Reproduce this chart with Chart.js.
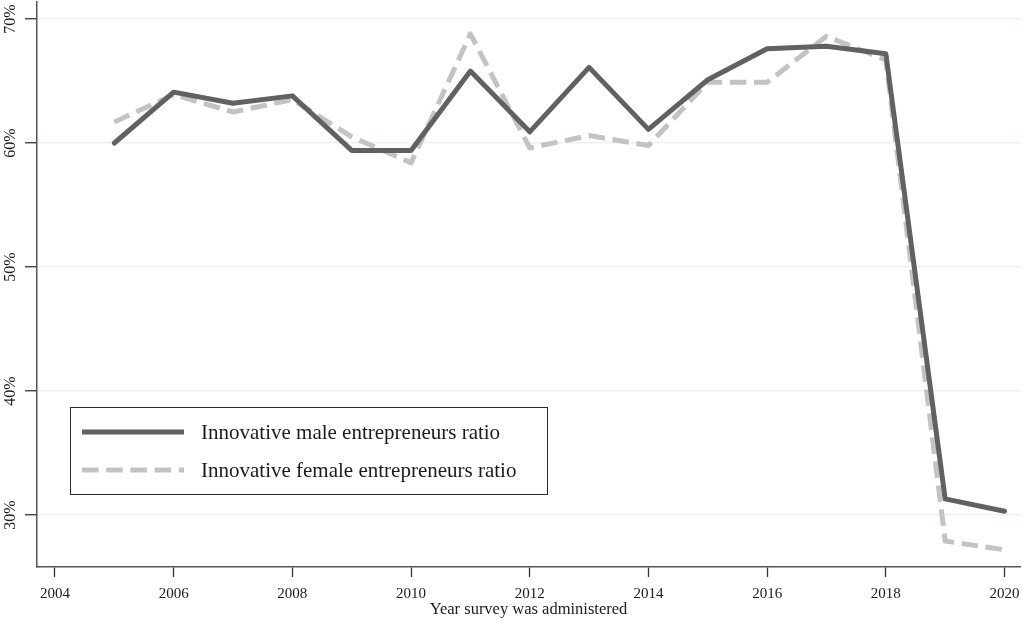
<!DOCTYPE html>
<html>
<head>
<meta charset="utf-8">
<script src="https://cdn.jsdelivr.net/npm/chart.js@4.4.1/dist/chart.umd.min.js"></script>
<style>
  html, body { margin: 0; padding: 0; background: #ffffff; }
  #wrap { width: 1022px; height: 618px; }
</style>
</head>
<body>
<div id="wrap"><canvas id="chart" width="1022" height="618"></canvas></div>
<script>
// Survey years and the share of innovative entrepreneurs (%) by gender
const years = [2005, 2006, 2007, 2008, 2009, 2010, 2011, 2012, 2013, 2014, 2015, 2016, 2017, 2018, 2019, 2020];
const maleRatio = [60.0, 64.1, 63.2, 63.8, 59.4, 59.4, 65.8, 60.9, 66.1, 61.1, 65.1, 67.6, 67.8, 67.2, 31.3, 30.3];
const femaleRatio = [61.7, 63.9, 62.5, 63.5, 60.5, 58.4, 68.8, 59.6, 60.6, 59.8, 64.9, 64.9, 68.6, 66.7, 27.9, 27.2];

const xTickValues = [2004, 2006, 2008, 2010, 2012, 2014, 2016, 2018, 2020];
const yTickValues = [30, 40, 50, 60, 70];

const seriesNames = ['Innovative male entrepreneurs ratio', 'Innovative female entrepreneurs ratio'];
const xTitle = 'Year survey was administered';

const SERIF = "'Liberation Serif', 'Times New Roman', serif";
const TEXT_COLOR = '#1b1b1b';

// Rotated percentage labels on the vertical axis
const yLabelPlugin = {
  id: 'yLabels',
  afterDraw(chart) {
    const ys = chart.scales.y;
    const ctx = chart.ctx;
    ctx.save();
    ctx.fillStyle = TEXT_COLOR;
    ctx.font = '16px ' + SERIF;
    ctx.textAlign = 'center';
    ctx.textBaseline = 'middle';
    ys.ticks.forEach(t => {
      const py = ys.getPixelForValue(t.value);
      ctx.save();
      ctx.translate(11, py);
      ctx.rotate(-Math.PI / 2);
      ctx.fillText(t.value + '%', 0, 0);
      ctx.restore();
    });
    ctx.restore();
  }
};

// Boxed legend placed inside the plot area
const boxLegendPlugin = {
  id: 'boxLegend',
  afterDraw(chart) {
    const ctx = chart.ctx;
    const left = 70, top = 407, w = 477, h = 87;
    ctx.save();
    ctx.strokeStyle = '#2b2b2b';
    ctx.lineWidth = 1;
    ctx.strokeRect(left + 0.5, top + 0.5, w, h);
    const rows = [432, 470];
    chart.data.datasets.forEach((ds, i) => {
      const y = rows[i];
      ctx.save();
      ctx.strokeStyle = ds.borderColor;
      ctx.lineWidth = ds.borderWidth;
      ctx.setLineDash(ds.borderDash || []);
      ctx.lineCap = 'butt';
      ctx.beginPath();
      ctx.moveTo(82, y);
      ctx.lineTo(184, y);
      ctx.stroke();
      ctx.restore();
      ctx.fillStyle = TEXT_COLOR;
      ctx.font = '21px ' + SERIF;
      ctx.textAlign = 'left';
      ctx.textBaseline = 'middle';
      ctx.fillText(ds.label, 201, y + 1);
    });
    ctx.restore();
  }
};

const ctx = document.getElementById('chart').getContext('2d');
new Chart(ctx, {
  type: 'line',
  data: {
    datasets: [
      {
        label: seriesNames[0],
        data: years.map((yr, i) => ({ x: yr, y: maleRatio[i] })),
        borderColor: '#616161',
        borderWidth: 5,
        borderCapStyle: 'round',
        borderJoinStyle: 'round',
        pointRadius: 0,
        tension: 0,
        fill: false
      },
      {
        label: seriesNames[1],
        data: years.map((yr, i) => ({ x: yr, y: femaleRatio[i] })),
        borderColor: '#c3c3c3',
        borderWidth: 5,
        borderDash: [16.5, 7.7],
        borderCapStyle: 'butt',
        borderJoinStyle: 'round',
        pointRadius: 0,
        tension: 0,
        fill: false
      }
    ]
  },
  options: {
    responsive: false,
    animation: false,
    devicePixelRatio: 1,
    layout: { padding: { top: 2, right: 2, left: 0, bottom: 0 } },
    plugins: {
      legend: { display: false },
      tooltip: { enabled: false }
    },
    scales: {
      x: {
        type: 'linear',
        min: 2003.697,
        max: 2020.261,
        afterBuildTicks: s => { s.ticks = xTickValues.map(v => ({ value: v })); },
        afterFit: s => { s.height = 51; s.paddingLeft = 0; s.paddingRight = 0; },
        ticks: {
          callback: v => String(v),
          font: { family: SERIF, size: 15 },
          color: TEXT_COLOR,
          padding: 8,
          maxRotation: 0,
          autoSkip: false
        },
        grid: {
          drawOnChartArea: false,
          drawTicks: true,
          tickLength: 10,
          tickColor: '#333333',
          tickWidth: 1.3
        },
        border: { display: true, color: '#555555', width: 1.5 },
        title: {
          display: true,
          text: xTitle,
          font: { family: SERIF, size: 16.5 },
          color: TEXT_COLOR,
          padding: { top: 0, bottom: -2 }
        }
      },
      y: {
        type: 'linear',
        min: 25.81,
        max: 71.37,
        afterBuildTicks: s => { s.ticks = yTickValues.map(v => ({ value: v })); },
        afterFit: s => { s.width = 37; s.paddingTop = 0; s.paddingBottom = 0; },
        ticks: { display: false },
        grid: {
          color: '#e9f1f3',
          lineWidth: 1.5,
          drawTicks: true,
          tickLength: 12,
          tickColor: '#333333',
          tickWidth: 1.3
        },
        border: { display: true, color: '#555555', width: 1.5 }
      }
    }
  },
  plugins: [yLabelPlugin, boxLegendPlugin]
});
</script>
</body>
</html>
